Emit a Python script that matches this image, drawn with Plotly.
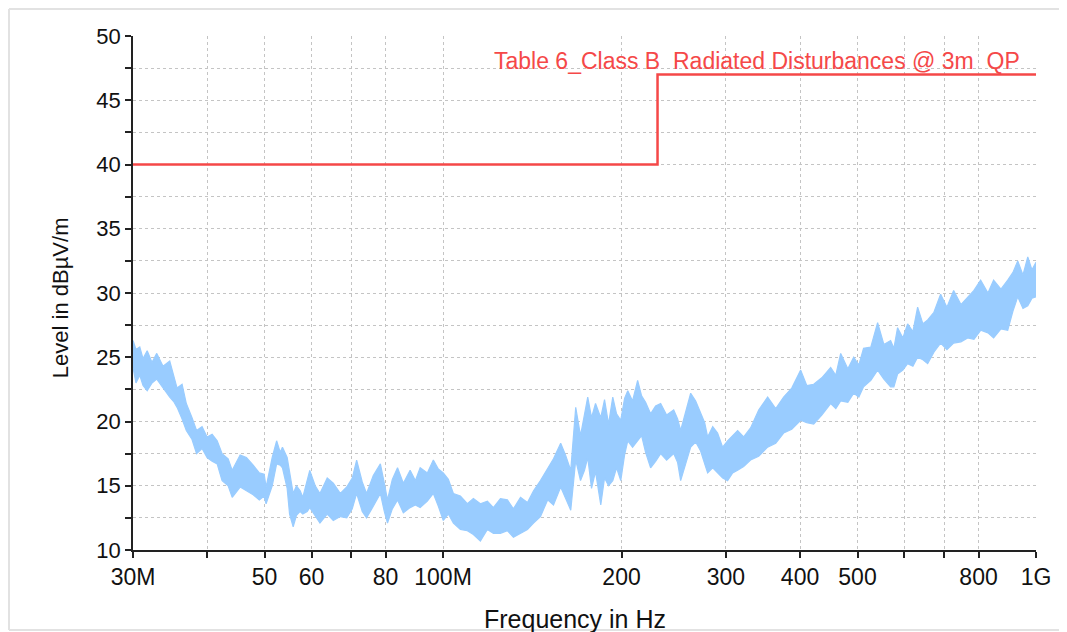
import numpy as np
import plotly.graph_objects as go

freq_mhz = [30.0, 30.35, 30.8, 31.19, 31.7, 32.30, 32.9, 33.71, 34.6, 35.19, 35.6, 36.30, 36.9,
            37.73, 38.4, 39.23, 40.0, 40.79, 41.6, 42.08, 42.4, 43.41, 44.1, 45.48, 46.6, 47.84,
            49.0, 49.93, 50.3, 51.51, 52.4, 53.14, 53.6, 54.59, 55.1, 55.88, 56.6, 57.42, 58.0,
            59.01, 59.6, 60.87, 62.0, 63.78, 65.3, 67.09, 68.8, 70.29, 71.5, 73.07, 74.3, 76.27,
            78.4, 79.60, 80.6, 82.12, 83.8, 85.71, 88.0, 89.80, 91.5, 94.08, 96.3, 98.19, 100.1,
            102.09, 104.1, 106.96, 109.9, 112.50, 115.6, 118.79, 121.6, 124.95, 128.4, 131.43,
            135.1, 138.79, 142.1, 145.98, 150.1, 153.55, 157.9, 160.88, 164.2, 167.4, 170.54,
            173.21, 175.4, 177.99, 180.78, 184.5, 187.22, 190.15, 193.3, 196.17, 199.4, 202.37,
            204.9, 208.76, 212.9, 216.19, 219.58, 223.9, 228.28, 232.8, 238.26, 244.9, 248.68,
            251.6, 256.54, 261.6, 266.72, 271.9, 276.22, 279.4, 284.95, 290.4, 296.17, 301.9,
            307.91, 313.9, 321.37, 330.1, 340.67, 352.7, 363.97, 375.3, 387.33, 401.0, 410.59,
            421.8, 435.26, 450.5, 459.61, 468.4, 481.57, 492.7, 502.62, 511.9, 526.61, 540.6,
            553.91, 568.6, 575.87, 584.2, 596.35, 607.4, 620.01, 631.5, 644.56, 656.6, 672.71,
            690.5, 707.60, 726.3, 747.16, 766.9, 785.87, 806.6, 829.78, 848.2, 872.75, 896.0,
            914.42, 931.5, 950.66, 968.6, 984.50, 1000.0]
level_upper = [26.3, 25.6, 25.8, 24.9, 25.5, 24.6, 25.3, 24.3, 24.7, 23.5, 22.6, 22.9, 21.4,
               20.3, 19.3, 19.6, 18.8, 19.0, 18.5, 17.9, 17.5, 17.1, 16.2, 17.4, 17.2, 16.6,
               16.0, 15.9, 14.9, 17.2, 18.5, 17.6, 18.0, 17.2, 16.0, 14.4, 15.0, 14.6, 14.1,
               15.3, 16.2, 15.0, 14.4, 15.6, 15.2, 14.4, 14.9, 15.6, 17.0, 15.3, 14.4, 15.8,
               16.7, 15.2, 13.9, 15.5, 16.4, 15.2, 16.2, 15.4, 16.4, 16.0, 17.0, 16.3, 16.0,
               15.5, 14.4, 14.2, 13.6, 14.0, 13.6, 13.8, 13.3, 14.0, 13.9, 13.2,
               14.1, 13.7, 14.6, 15.4, 16.4, 17.1, 18.3, 17.4, 16.2, 21.1, 18.9,
               20.7, 21.9, 20.3, 21.4, 20.3, 21.7, 19.8, 21.9, 20.6, 20.1, 21.8,
               22.4, 21.6, 23.2, 22.0, 21.5, 20.6, 21.2, 21.4, 20.5, 20.9, 20.2,
               19.3, 20.8, 22.2, 21.6, 20.6, 19.9, 18.8, 19.6, 19.1, 18.0, 18.5,
               18.9, 19.3, 18.8, 19.5, 20.9, 21.9, 21.0, 21.9, 22.6, 24.0, 22.8,
               22.9, 23.4, 24.2, 23.6, 25.3, 24.1, 25.0, 24.4, 25.7, 25.8, 27.7,
               26.0, 26.3, 25.7, 27.3, 26.5, 27.6, 27.0, 28.9, 27.6, 27.9, 28.5,
               29.9, 28.9, 30.2, 29.1, 29.7, 30.2, 31.0, 30.0, 31.0, 30.3, 31.0,
               31.6, 32.5, 31.4, 32.8, 31.8, 32.4]
level_lower = [24.2, 23.0, 23.6, 22.8, 22.4, 23.0, 23.3, 22.6, 21.9, 21.5, 21.1, 20.2, 19.3,
               18.6, 17.5, 17.9, 17.2, 16.9, 16.7, 15.9, 15.4, 15.0, 14.1, 14.9, 14.6, 14.3,
               13.9, 14.2, 13.6, 15.0, 16.7, 16.6, 16.4, 14.8, 12.8, 11.8, 12.7, 13.0, 12.8,
               13.0, 13.3, 12.6, 12.1, 12.8, 12.3, 12.6, 12.5, 13.2, 14.4, 13.0, 12.5, 13.4,
               14.4, 13.0, 12.1, 13.2, 13.9, 12.9, 13.3, 13.5, 13.3, 13.8, 14.4, 13.4, 12.3,
               12.8, 12.1, 11.6, 11.5, 11.2, 10.7, 11.6, 11.3, 11.3, 11.5, 11.0,
               11.3, 11.6, 12.1, 12.6, 13.9, 13.5, 14.9, 14.0, 13.1, 17.0, 15.4,
               16.2, 17.2, 14.8, 16.1, 13.5, 15.6, 15.0, 15.4, 16.4, 15.4, 17.4,
               18.5, 18.0, 18.5, 18.9, 17.6, 16.4, 16.9, 17.5, 17.0, 17.5, 16.8,
               15.4, 16.7, 18.0, 18.4, 17.7, 16.7, 16.0, 16.4, 16.0, 15.6, 15.4,
               16.0, 16.2, 16.5, 17.0, 17.3, 18.0, 18.3, 19.1, 19.4, 20.1, 19.9,
               19.8, 20.5, 21.4, 21.0, 21.6, 21.5, 22.2, 21.9, 22.7, 23.2, 24.0,
               23.3, 22.7, 22.7, 23.7, 24.0, 24.5, 24.3, 25.0, 24.8, 24.5, 25.4,
               26.1, 25.6, 26.1, 26.2, 26.5, 26.4, 27.1, 26.9, 26.5, 27.2, 27.1,
               28.6, 29.7, 28.8, 29.0, 29.6, 29.7]

# limit line (Class B, 3 m, QP)
limit_freq_mhz = [30, 230, 1000]
limit_level = [40, 47, 47]
limit_name = 'Table 6_Class B\u00a0 Radiated Disturbances @ 3m\u00a0 QP'

x_tickvals_mhz = [30, 40, 50, 60, 70, 80, 100, 200, 300, 400, 500, 600, 700, 800, 1000]
x_ticktext = ['30M', '', '50', '60', '', '80', '100M', '200', '300', '400', '500', '', '', '800', '1G']

f_hz = np.array(freq_mhz) * 1e6
trace_color = '#99CCFF'
red = '#F54848'
font_family = 'Liberation Sans, Arial, sans-serif'

fig = go.Figure()
fig.add_trace(go.Scatter(x=f_hz, y=level_lower, mode='lines',
                         line=dict(color=trace_color, width=1.2), hoverinfo='skip'))
fig.add_trace(go.Scatter(x=f_hz, y=level_upper, mode='lines', fill='tonexty',
                         fillcolor=trace_color, line=dict(color=trace_color, width=1.2)))
fig.add_trace(go.Scatter(x=np.array(limit_freq_mhz) * 1e6, y=limit_level, mode='lines',
                         line=dict(color=red, width=2.5, shape='hv')))

fig.add_annotation(text=limit_name, xref='paper', x=0.9845, xanchor='right',
                   yref='paper', y=0.951, yanchor='middle', showarrow=False,
                   font=dict(family=font_family, size=23, color=red))
fig.add_annotation(text='Level in dB\u00b5V/m', xref='paper', x=-0.0808, yref='paper', y=0.49,
                   textangle=-90, showarrow=False, xanchor='center', yanchor='middle',
                   font=dict(family=font_family, size=22, color='#111111'))
fig.add_annotation(text='Frequency in Hz', xref='paper', x=0.489, yref='paper', y=-0.134,
                   showarrow=False, xanchor='center', yanchor='middle',
                   font=dict(family=font_family, size=25, color='#111111'))

# light frame around the whole picture
frame = dict(color='#E2E2E2', width=2)
fig.add_shape(type='line', xref='paper', yref='paper', x0=-0.1373, x1=1.034, y0=1.0525, y1=1.0525, line=frame)
fig.add_shape(type='line', xref='paper', yref='paper', x0=-0.1373, x1=-0.1373, y0=1.0525, y1=-0.1556, line=frame)
fig.add_shape(type='line', xref='paper', yref='paper', x0=-0.1373, x1=1.034, y0=-0.1556, y1=-0.1556, line=frame)

grid = dict(showgrid=True, gridcolor='#C4C4C4', gridwidth=1, griddash='dot')
fig.update_xaxes(type='log', range=[np.log10(30e6), 9],
                 tickvals=np.array(x_tickvals_mhz) * 1e6, ticktext=x_ticktext,
                 ticks='outside', ticklen=6, tickwidth=1.5, tickcolor='#222222',
                 showline=True, linecolor='#222222', linewidth=1.5, zeroline=False,
                 tickfont=dict(family=font_family, size=23, color='#111111'), **grid)
fig.update_yaxes(range=[10, 50], dtick=5, tick0=10,
                 ticks='outside', ticklen=6, tickwidth=1.5, tickcolor='#222222',
                 showline=True, linecolor='#222222', linewidth=1.5, zeroline=False,
                 minor=dict(dtick=2.5, ticks='outside', ticklen=6, tickwidth=1.5,
                            tickcolor='#222222', showgrid=True, gridcolor='#C4C4C4',
                            griddash='dot'),
                 tickfont=dict(family=font_family, size=22, color='#111111'), **grid)

# page body adds an 8 px offset, so margins are set relative to that
fig.update_layout(width=1067, height=632, showlegend=False,
                  margin=dict(l=125, r=39, t=28, b=90),
                  plot_bgcolor='white', paper_bgcolor='white')

fig.write_html("out.html")
